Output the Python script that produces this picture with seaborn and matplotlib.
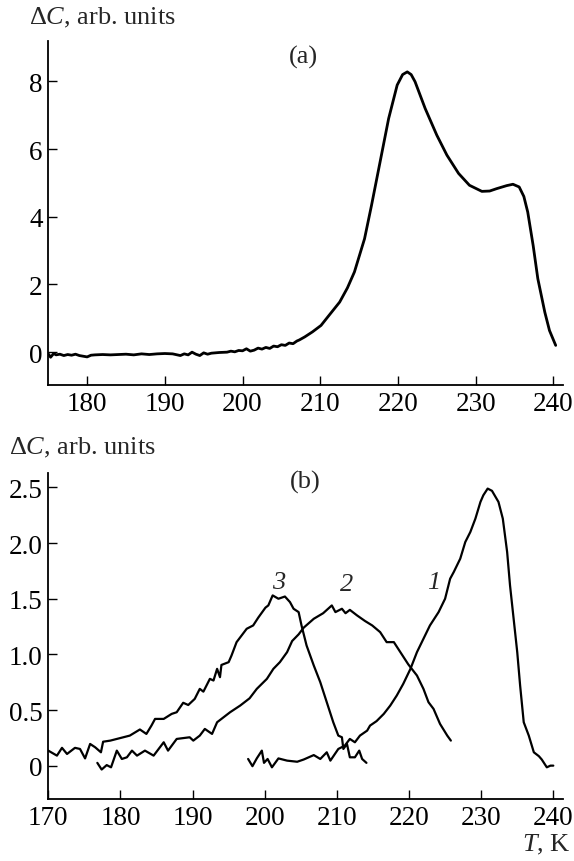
import matplotlib
matplotlib.use("Agg")
import matplotlib.pyplot as plt
import seaborn as sns
import pandas as pd

# panel (a): single heat capacity anomaly curve
ta_T = [175, 175.3, 175.7, 176, 176.5, 177, 177.5, 178, 178.5, 179, 179.5, 180, 180.5, 181,
        182, 183, 184, 185, 186, 187, 188, 189, 190, 191, 192, 192.5, 193, 193.5, 194, 194.5,
        195, 195.5, 196, 197, 198, 198.5, 199, 199.5, 200, 200.5, 201, 201.5, 202, 202.5,
        203, 203.5, 204, 204.5, 205, 205.5, 206, 206.5, 207, 207.3, 208, 209, 210.1, 211,
        212.5, 213.5, 214.4, 215.7, 216.6, 217.7, 218.8, 219.9, 220.6, 221.2, 221.7, 222.2,
        223.5, 225.0, 226.3, 227.8, 229.2, 230.8, 231.8, 232.7, 234.0, 234.8, 235.6, 236.2,
        236.7, 237.4, 238.0, 238.9, 239.5, 240.3]
ta_C = [-0.05, -0.15, -0.04, -0.08, -0.06, -0.1, -0.07, -0.09, -0.06, -0.1, -0.12, -0.14,
        -0.09, -0.08, -0.07, -0.08, -0.07, -0.06, -0.08, -0.05, -0.07, -0.05, -0.04, -0.05,
        -0.1, -0.05, -0.08, 0.0, -0.06, -0.1, -0.02, -0.06, -0.03, -0.01, 0.0, 0.03, 0.01,
        0.05, 0.04, 0.1, 0.03, 0.06, 0.12, 0.09, 0.14, 0.11, 0.18, 0.16, 0.22, 0.2, 0.27,
        0.25, 0.33, 0.36, 0.45, 0.6, 0.79, 1.05, 1.48, 1.9, 2.37, 3.35, 4.34, 5.62, 6.9,
        7.89, 8.2, 8.28, 8.2, 7.99, 7.2, 6.41, 5.82, 5.28, 4.93, 4.75, 4.76, 4.83, 4.92,
        4.96, 4.88, 4.6, 4.14, 3.15, 2.17, 1.18, 0.64, 0.2]

# panel (b): curves 1, 2, 3
c1_T = [197.7, 198.3, 198.9, 199.6, 199.9, 200.4, 201.0, 201.9, 203.1, 204.5, 205.4, 206.8,
        207.7, 208.6, 209.1, 210.2, 211.1, 211.8, 212.5, 213.2, 214.2, 214.6, 215.5, 216.5,
        217.4, 218.3, 219.2, 220.2, 221.1, 222.0, 222.9, 224.1, 225.0, 225.7, 226.2, 227.1,
        227.8, 228.5, 229.2, 229.9, 230.3, 230.9, 231.5, 232.4, 233.0, 233.6, 234.0, 234.5,
        235.0, 235.4, 235.9, 236.6, 237.3, 238.0, 238.4, 239.1, 239.6, 240.0]
c1_C = [0.06, -0.005, 0.065, 0.135, 0.025, 0.06, -0.015, 0.065, 0.045, 0.035, 0.055, 0.095,
        0.06, 0.12, 0.045, 0.15, 0.18, 0.24, 0.21, 0.27, 0.315, 0.36, 0.40, 0.465, 0.54,
        0.63, 0.735, 0.87, 1.02, 1.14, 1.26, 1.38, 1.50, 1.68, 1.74, 1.86, 2.01, 2.10, 2.22,
        2.37, 2.43, 2.49, 2.47, 2.37, 2.22, 1.92, 1.62, 1.32, 1.02, 0.72, 0.39, 0.27, 0.12,
        0.085, 0.055, -0.015, 0.0, 0.0]

c2_T = [176.8, 177.4, 178.1, 178.7, 179.5, 180.2, 180.9, 181.6, 182.3, 183.4, 184.6, 186.0,
        186.6, 187.8, 189.6, 190.1, 191.0, 191.7, 192.7, 193.4, 194.0, 195.2, 196.6, 197.9,
        198.9, 200.3, 201.2, 202.1, 203.1, 203.8, 204.7, 205.4, 206.8, 208.1, 209.3, 209.8,
        210.7, 211.2, 211.8, 212.8, 213.9, 214.9, 216.0, 216.9, 217.9, 218.8, 219.9, 221.1,
        222.0, 222.7, 223.4, 224.3, 225.3, 225.8]
c2_C = [0.025, -0.035, 0.005, -0.015, 0.135, 0.06, 0.075, 0.135, 0.09, 0.135, 0.09, 0.21,
        0.135, 0.24, 0.255, 0.225, 0.27, 0.33, 0.285, 0.39, 0.42, 0.48, 0.54, 0.605, 0.69,
        0.78, 0.87, 0.93, 1.02, 1.12, 1.18, 1.24, 1.32, 1.37, 1.44, 1.38, 1.41, 1.37, 1.40,
        1.35, 1.30, 1.26, 1.20, 1.11, 1.11, 1.02, 0.91, 0.81, 0.69, 0.57, 0.51, 0.375, 0.27,
        0.225]

c3_T = [170, 171.2, 171.9, 172.6, 173.7, 174.4, 175.1, 175.8, 176.5, 177.3, 177.6, 178.6,
        179.5, 180.4, 181.3, 182.7, 183.6, 184.3, 184.8, 186.0, 187.1, 187.8, 188.7, 189.4,
        190.3, 191.0, 191.5, 192.4, 192.9, 193.4, 193.8, 194.0, 195.0, 195.4, 196.1, 197.5,
        198.4, 199.1, 200.1, 200.5, 201.1, 201.9, 202.8, 203.5, 204.0, 204.7, 205.1, 205.8,
        206.8, 207.7, 208.6, 209.5, 210.2, 210.7, 210.9, 211.4, 211.8, 212.5, 213.1, 213.5,
        214.1]
c3_C = [0.135, 0.09, 0.16, 0.105, 0.16, 0.15, 0.065, 0.195, 0.165, 0.12, 0.215, 0.225, 0.24,
        0.255, 0.27, 0.325, 0.285, 0.36, 0.42, 0.42, 0.465, 0.48, 0.565, 0.545, 0.6, 0.69,
        0.665, 0.78, 0.765, 0.87, 0.795, 0.905, 0.93, 0.99, 1.11, 1.23, 1.26, 1.33, 1.42,
        1.44, 1.53, 1.50, 1.52, 1.47, 1.41, 1.38, 1.26, 1.08, 0.90, 0.75, 0.57, 0.39, 0.27,
        0.255, 0.15, 0.195, 0.075, 0.075, 0.135, 0.06, 0.025]

curve_names = ["1", "2", "3"]
label_pos = [(223.4, 1.65), (211.4, 1.63), (202.0, 1.65)]

xticks_a = [180, 190, 200, 210, 220, 230, 240]
yticks_a = [0, 2, 4, 6, 8]
xticks_b = [170, 180, 190, 200, 210, 220, 230, 240]
yticks_b = [0, 0.5, 1.0, 1.5, 2.0, 2.5]
ylabels_b = ["0", "0.5", "1.0", "1.5", "2.0", "2.5"]

sns.set_style("ticks")
plt.rcParams['font.family'] = ['Liberation Serif', 'DejaVu Serif']
plt.rcParams['mathtext.fontset'] = 'custom'
plt.rcParams['mathtext.rm'] = 'Liberation Serif'
plt.rcParams['mathtext.it'] = 'Liberation Serif:italic'

fig = plt.figure(figsize=(5.74, 8.62), dpi=100)
ax_a = fig.add_axes([0.0841, 0.5522, 0.8962, 0.3994])
ax_b = fig.add_axes([0.0841, 0.0719, 0.8962, 0.3782])

df_a = pd.DataFrame({"T": ta_T, "dC": ta_C})
sns.lineplot(data=df_a, x="T", y="dC", ax=ax_a, color="black", lw=2.0,
             estimator=None, sort=False)

for T, C in [(c1_T, c1_C), (c2_T, c2_C), (c3_T, c3_C)]:
    d = pd.DataFrame({"T": T, "dC": C})
    sns.lineplot(data=d, x="T", y="dC", ax=ax_b, color="black", lw=1.6,
                 estimator=None, sort=False)

for name, (x, y) in zip(curve_names, label_pos):
    ax_b.text(x, y, name, fontsize=19, fontstyle="italic", ha="center", va="center")

ax_a.text(207.9, 8.74, "(a)", fontsize=19, ha="center", va="center")
ax_b.text(205.6, 2.55, "(b)", fontsize=19, ha="center", va="center")

ax_a.set_xlim(175, 241.2)
ax_a.set_ylim(-0.97, 9.2)
ax_a.set_xticks(xticks_a)
ax_a.set_yticks(yticks_a)

ax_b.set_xlim(170, 241.3)
ax_b.set_ylim(-0.3, 2.63)
ax_b.set_xticks(xticks_b)
ax_b.set_yticks(yticks_b)
ax_b.set_yticklabels(ylabels_b)

for ax in (ax_a, ax_b):
    sns.despine(ax=ax)
    ax.set_xlabel("")
    ax.set_ylabel("")
    ax.tick_params(direction="in", length=6.5, width=1, labelsize=19.5, pad=4,
                   colors="black")
    for s in ("left", "bottom"):
        ax.spines[s].set_linewidth(1.3)
        ax.spines[s].set_color("black")

fig.text(0.0505, 0.979, r"$\Delta C$, arb. units", fontsize=19, ha="left", va="center")
fig.text(0.0162, 0.480, r"$\Delta C$, arb. units", fontsize=19, ha="left", va="center")
fig.text(0.995, 0.012, r"$T$, K", fontsize=19, ha="right", va="baseline")

fig.savefig("out.png", dpi=100)
